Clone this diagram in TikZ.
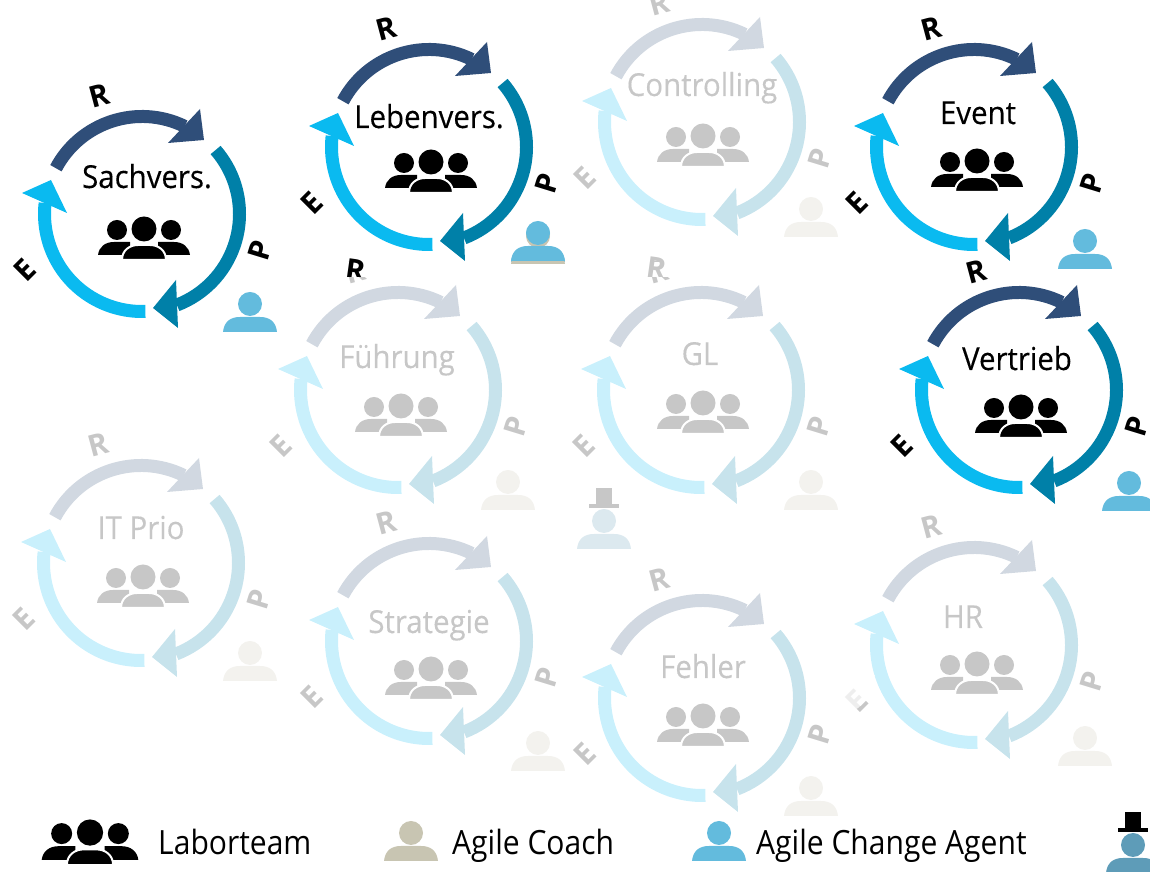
\documentclass[tikz,border=0pt]{standalone}
\usepackage{fontspec}
\setmainfont{Open Sans}
\newfontfamily\titlefont[FakeStretch=0.93,FakeBold=0.25]{Open Sans}
\newfontfamily\legendfont[FakeStretch=0.9]{Open Sans}
\definecolor{cycleR}{HTML}{2F4E79}
\definecolor{cycleP}{HTML}{0080A8}
\definecolor{cycleE}{HTML}{0ABAF0}
\definecolor{coachcol}{HTML}{C8C5B2}
\definecolor{agentcol}{HTML}{63BBDD}
\definecolor{hatcol}{HTML}{5E9CB8}
\tikzset{
    ringline/.style={line width=0.26cm},
    ringtitle/.style={font=\titlefont\fontsize{18}{20}\selectfont, anchor=base},
    ringletter/.style={font=\fontsize{17}{19}\selectfont\bfseries, inner sep=0pt},
    legendtext/.style={font=\legendfont\fontsize{19}{22}\selectfont, anchor=base west},
    pics/personicon/.style={code={
        \fill (0,9) circle[radius=12];
        \fill (-27,-19) .. controls (-26,-9) and (-20,-4) .. (-10,-4) -- (10,-4) .. controls (20,-4) and (26,-9) .. (27,-19) -- cycle;
    }},
    pics/hatpart/.style={code={
        \fill (-15,21.6) rectangle (15,25.6);
        \fill (-8,25.6) rectangle (8,41.6);
    }},
    pics/teamicon/.style={code={
        \fill (-27,8) circle[radius=10];
        \fill (27,8) circle[radius=10];
        \fill (0,9) circle[radius=12.5];
        \fill (-46,-17) .. controls (-45,-9) and (-39,-4) .. (-30,-4) -- (-14,-4) -- (-14,-17) -- cycle;
        \fill (46,-17) .. controls (45,-9) and (39,-4) .. (30,-4) -- (14,-4) -- (14,-17) -- cycle;
        \fill[draw=white, line width=0.04cm] (-22,-22) .. controls (-22,-12) and (-14,-7) .. (-6,-7) -- (6,-7) .. controls (14,-7) and (22,-12) .. (22,-22) -- cycle;
    }},
}
\begin{document}
\begin{tikzpicture}[x=0.02cm, y=0.02cm]
    \useasboundingbox (0,0) rectangle (1150,872);
    \clip (0,0) rectangle (1150,872);

    % Cycles: center, title, team icon, person, strength, person colour
    \foreach \cx/\cy/\ringname/\tx/\ty/\ix/\iy/\px/\py/\f/\pcol [count=\i] in {
        702/122/Controlling/702/96/703/145/811/218/22/coachcol,
        398/390/Führung/397/368/401/415/508/491/22/coachcol,
        701/390/GL/700/365/703/412/811/491/22/coachcol,
        141/563/IT Prio/141/539/143/586/250/662/22/coachcol,
        429/641/Strategie/429/633/431/678/538/752/22/coachcol,
        702/698/Fehler/703/678/703/725/811/797/22/coachcol,
        974/645/HR/963/628/977/673/1085/747/22/coachcol,
        142/214/Sachvers./147/188/144/238/250/313/100/agentcol,
        429/147/Lebenvers./429/128/431/171/538/243/100/agentcol,
        974/147/Event/978/124/977/170/1085/250/100/agentcol,
        1019/390/Vertrieb/1017/370/1021/416/1129/492/100/agentcol%
    }{
        \begin{scope}[shift={(\cx,872-\cy)}]
            \draw[ringline, cycleR!\f!white] (152:97.5) arc[start angle=152, end angle=64, radius=97.5];
            \fill[cycleR!\f!white] (62,74) -- (58,105) -- (26,71) -- cycle;
            \draw[ringline, cycleP!\f!white] (41:97.5) arc[start angle=41, end angle=-69, radius=97.5];
            \fill[cycleP!\f!white] (34,-66) -- (36,-114) -- (11,-94) -- cycle;
            \draw[ringline, cycleE!\f!white] (-88:97.5) arc[start angle=-88, end angle=-186.5, radius=97.5];
            \fill[cycleE!\f!white] (-120,21) -- (-91,34) -- (-75,1) -- cycle;
            \node[ringletter, text=black!\f!white, rotate=15] (R\i) at (-43,118) {R};
            \node[ringletter, text=black!\f!white, rotate=73] (P\i) at (118,-36) {P};
            \node[ringletter, text=black!\f!white, rotate=45] (E\i) at (-117,-56) {E};
        \end{scope}
        \node[ringtitle, text=black!\f!white] (title\i) at (\tx,872-\ty) {\ringname};
        \pic[color=black!\f!white] at (\ix,872-\iy) {teamicon};
        \pic[color=\pcol!\f!white] at (\px,872-\py) {personicon};
    }

    % Coach under the agent of the second team
    \pic[color=coachcol] at (538,627) {personicon};
    \pic[color=agentcol] at (538,630) {personicon};

    % Letters lying over the lower cycles
    \begin{scope}
        \clip (300,595) rectangle (700,640);
        \fill[white] (330,595) rectangle (380,610);
        \fill[white] (635,595) rectangle (685,610);
        \node[ringletter, text=black, rotate=-8] (Rblack) at (356,602) {R};
        \node[ringletter, text=black!22!white, rotate=-8] (Rgrey) at (657,604) {R};
    \end{scope}

    % Faded letter at the last cycle
    \fill[white, opacity=0.7] (835,197) -- (875,197) -- (868,174) -- (858,164) -- (835,152) -- cycle;

    % Top hat person
    \pic[color=hatcol!22!white] at (604,342) {personicon};
    \pic[color=black!22!white] at (604,342) {hatpart};

    % Legend
    \pic[color=black, scale=1.05] at (90,30) {teamicon};
    \node[legendtext] (leglabor) at (152,17) {Laborteam};
    \pic[color=coachcol] at (411,30) {personicon};
    \node[legendtext] (legcoach) at (446,17) {Agile Coach};
    \pic[color=agentcol] at (719,30) {personicon};
    \node[legendtext] (legagent) at (750,17) {Agile Change Agent};
    \pic[color=hatcol] at (1133,18) {personicon};
    \pic[color=black] at (1133,18) {hatpart};
\end{tikzpicture}
\end{document}
